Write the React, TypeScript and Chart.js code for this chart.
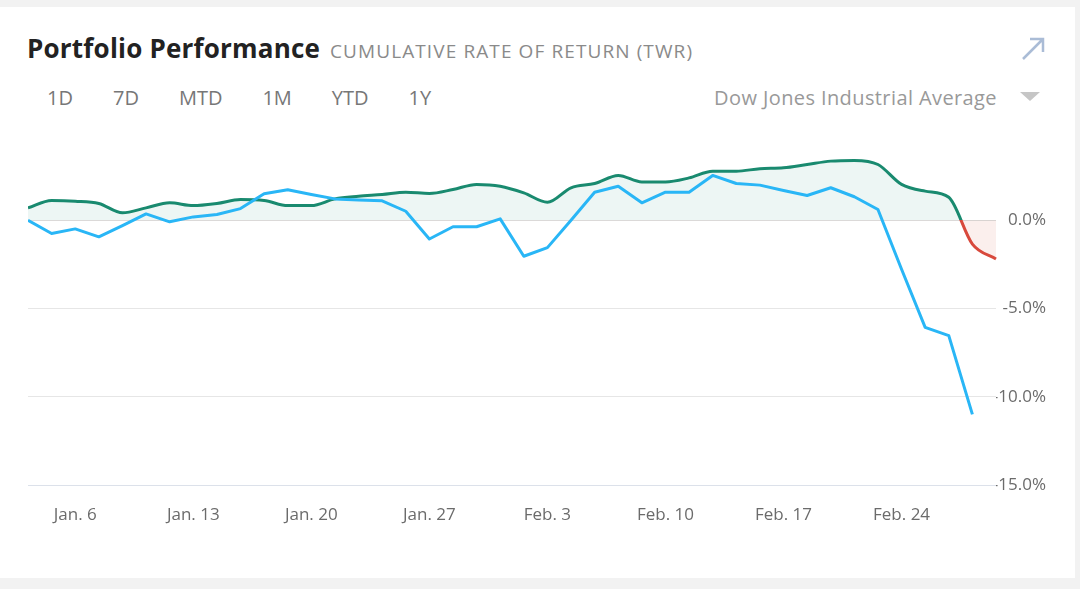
import React, { useEffect, useRef } from "react";
import { Chart, registerables } from "chart.js";

Chart.register(...registerables);

const dates = [
  "Jan. 2", "Jan. 3",
  "Jan. 6", "Jan. 7", "Jan. 8", "Jan. 9", "Jan. 10",
  "Jan. 13", "Jan. 14", "Jan. 15", "Jan. 16", "Jan. 17",
  "Jan. 20", "Jan. 21", "Jan. 22", "Jan. 23", "Jan. 24",
  "Jan. 27", "Jan. 28", "Jan. 29", "Jan. 30", "Jan. 31",
  "Feb. 3", "Feb. 4", "Feb. 5", "Feb. 6", "Feb. 7",
  "Feb. 10", "Feb. 11", "Feb. 12", "Feb. 13", "Feb. 14",
  "Feb. 17", "Feb. 18", "Feb. 19", "Feb. 20", "Feb. 21",
  "Feb. 24", "Feb. 25", "Feb. 26", "Feb. 27", "Feb. 28",
];

const weekLabels = ["Jan. 6", "Jan. 13", "Jan. 20", "Jan. 27", "Feb. 3", "Feb. 10", "Feb. 17", "Feb. 24"];

const portfolioReturns = [
  0.7, 1.12, 1.08, 0.95, 0.42, 0.7, 0.99, 0.83, 0.95, 1.17,
  1.12, 0.83, 0.83, 1.21, 1.36, 1.46, 1.59, 1.52, 1.74, 2.03,
  1.93, 1.55, 1.02, 1.84, 2.08, 2.54, 2.17, 2.17, 2.4, 2.78,
  2.78, 2.92, 2.97, 3.16, 3.35, 3.39, 3.16, 2.03, 1.65, 1.3,
  -1.35, -2.19,
];

const dowJonesReturns = [
  0.0, -0.75, -0.49, -0.94, -0.3, 0.36, -0.09, 0.19, 0.33, 0.66,
  1.5, 1.73, 1.46, 1.21, 1.15, 1.1, 0.51, -1.06, -0.37, -0.37,
  0.08, -2.04, -1.55, 0.0, 1.59, 1.93, 0.99, 1.59, 1.59, 2.54,
  2.08, 1.99, 1.69, 1.4, 1.84, 1.33, 0.61, -2.78, -6.07, -6.54,
  -11.0,
];

const yTicks = [0, -5, -10, -15];
const tabLabels = ["1D", "7D", "MTD", "1M", "YTD", "1Y"];

const GREEN = "#198a6f";
const RED = "#d8493c";
const BLUE = "#29b6f6";
const FONT = '"Open Sans", sans-serif';

export default function App() {
  const ref = useRef<HTMLCanvasElement>(null);

  useEffect(() => {
    document.body.style.margin = "0";
    document.body.style.background = "#f2f2f2";
    const canvas = ref.current!;
    const chart = new Chart(canvas, {
      type: "line",
      data: {
        labels: dates,
        datasets: [
          {
            label: "Dow Jones Industrial Average",
            data: dowJonesReturns,
            borderColor: BLUE,
            borderWidth: 3,
            tension: 0,
            fill: false,
            pointRadius: 0,
            borderJoinStyle: "round",
            order: 0,
          },
          {
            label: "Portfolio",
            data: portfolioReturns,
            borderWidth: 3,
            cubicInterpolationMode: "monotone",
            pointRadius: 0,
            order: 1,
            fill: {
              target: "origin",
              above: "rgba(25,138,111,0.08)",
              below: "rgba(216,73,60,0.09)",
            },
            borderColor: (ctx: any) => {
              const c = ctx.chart;
              const area = c.chartArea;
              if (!area) return GREEN;
              const y0 = c.scales.y.getPixelForValue(0);
              const g = c.ctx.createLinearGradient(0, area.top, 0, area.bottom);
              const s = Math.min(1, Math.max(0, (y0 - area.top) / (area.bottom - area.top)));
              g.addColorStop(0, GREEN);
              g.addColorStop(s, GREEN);
              g.addColorStop(s, RED);
              g.addColorStop(1, RED);
              return g;
            },
          },
        ],
      },
      options: {
        animation: false,
        responsive: false,
        layout: { padding: 0 },
        plugins: { legend: { display: false }, tooltip: { enabled: false } },
        elements: { point: { radius: 0 } },
        scales: {
          x: {
            type: "category",
            offset: false,
            grid: { display: false, drawTicks: false },
            border: { display: false },
            ticks: {
              autoSkip: false,
              maxRotation: 0,
              minRotation: 0,
              padding: 20,
              color: "#6b6b6b",
              font: { family: FONT, size: 17 },
              callback: (_v: any, i: number) => (weekLabels.includes(dates[i]) ? dates[i] : null),
            },
            afterFit: (s: any) => {
              s.height = 57;
              s.paddingLeft = 0;
              s.paddingRight = 0;
            },
          },
          y: {
            position: "right",
            min: -15,
            max: 5,
            afterBuildTicks: (s: any) => {
              s.ticks = yTicks.map((v) => ({ value: v }));
            },
            grid: {
              drawTicks: false,
              lineWidth: 1,
              color: (ctx: any) =>
                ctx.tick && ctx.tick.value === 0
                  ? "#dddddd"
                  : ctx.tick && ctx.tick.value === -15
                  ? "#dce1ea"
                  : "#e6e6e6",
            },
            border: { display: false },
            ticks: {
              padding: 0,
              crossAlign: "far",
              color: "#6b6b6b",
              font: { family: FONT, size: 17 },
              callback: (v: any) => Number(v).toFixed(1) + "%",
            },
            afterFit: (s: any) => {
              s.width = 50;
              s.paddingTop = 0;
              s.paddingBottom = 0;
            },
          },
        },
      },
    } as any);
    return () => chart.destroy();
  }, []);

  return (
    <div
      style={{
        position: "relative",
        width: 1080,
        height: 589,
        background: "#f2f2f2",
        overflow: "hidden",
        fontFamily: FONT,
      }}
    >
      <div style={{ position: "absolute", left: 0, top: 7, width: 1075, height: 571, background: "#fff" }} />
      <div
        style={{
          position: "absolute",
          left: 27,
          top: 35,
          fontSize: 26,
          lineHeight: "26px",
          fontWeight: 700,
          color: "#222",
          whiteSpace: "nowrap",
          letterSpacing: 0.2,
        }}
      >
        Portfolio Performance
      </div>
      <div
        style={{
          position: "absolute",
          left: 330,
          top: 42,
          fontSize: 19,
          lineHeight: "19px",
          color: "#8a8a8a",
          whiteSpace: "nowrap",
          letterSpacing: 1.1,
        }}
      >
        CUMULATIVE RATE OF RETURN (TWR)
      </div>
      <svg style={{ position: "absolute", left: 1018, top: 35 }} width={30} height={28}>
        <path d="M5 24 L25 4 M12 4 L25 4 L25 17" stroke="#aabcd6" strokeWidth={2.5} fill="none" />
      </svg>
      <div
        style={{
          position: "absolute",
          left: 47,
          top: 88,
          display: "flex",
          gap: 40,
          fontSize: 20,
          lineHeight: "20px",
          color: "#777",
          whiteSpace: "nowrap",
        }}
      >
        {tabLabels.map((t) => (
          <span key={t}>{t}</span>
        ))}
      </div>
      <div
        style={{
          position: "absolute",
          right: 83,
          top: 88,
          fontSize: 20,
          lineHeight: "20px",
          color: "#999",
          whiteSpace: "nowrap",
          textAlign: "right",
          letterSpacing: 0.4,
        }}
      >
        Dow Jones Industrial Average
      </div>
      <svg style={{ position: "absolute", left: 1019, top: 91 }} width={22} height={12}>
        <polygon points="1,1 21,1 11,10" fill="#c6c6c6" />
      </svg>
      <canvas
        ref={ref}
        width={1018}
        height={410}
        style={{ position: "absolute", left: 28, top: 132, width: 1018, height: 410 }}
      />
    </div>
  );
}
